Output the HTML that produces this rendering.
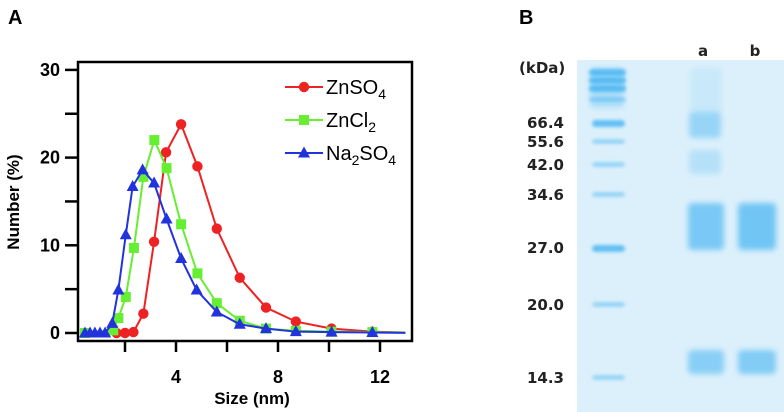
<!DOCTYPE html>
<html><head><meta charset="utf-8"><style>
body{margin:0;background:#fff;width:784px;height:412px;overflow:hidden}
svg{display:block;font-family:"Liberation Sans",Arial,sans-serif}
.gl{font-family:"DejaVu Sans",Verdana,sans-serif;font-weight:bold;font-size:15px;fill:#222}
</style></head><body>
<svg width="784" height="412">
<defs>
<filter id="blur" x="-30%" y="-50%" width="160%" height="200%"><feGaussianBlur stdDeviation="3"/></filter>
<filter id="blur2" x="-30%" y="-80%" width="160%" height="260%"><feGaussianBlur stdDeviation="1.5"/></filter>
</defs>
<text x="8" y="24" font-size="20" font-weight="bold">A</text>
<text x="519" y="24" font-size="20" font-weight="bold">B</text>
<g id="chart"></g>
<g id="gel">
<rect x="577" y="60" width="207" height="352" fill="#dcf0fb"/>
</g>
</svg>
<script>
const redX=[1.67,2.0,2.33,2.72,3.14,3.61,4.2,4.84,5.6,6.5,7.53,8.7,10.1,11.7,13.0];
const redY=[0,0,0.1,2.2,10.4,20.6,23.8,19.0,11.9,6.3,2.9,1.3,0.5,0.15,0.05];
const greenX=[0.43,1.54,1.74,2.03,2.35,2.72,3.15,3.63,4.2,4.84,5.6,6.5,7.53,8.7,10.1,11.7,13.0];
const greenY=[0,0.3,1.7,4.1,9.7,17.8,22.0,18.8,12.4,6.8,3.4,1.4,0.5,0.25,0.15,0.1,0.05];
const blueX=[0.43,0.63,0.82,1.02,1.22,1.5,1.74,2.03,2.3,2.69,3.14,3.63,4.2,4.81,5.6,6.5,7.53,8.7,10.1,11.7,13.0];
const blueY=[0,0,0,0,0,1.1,4.9,11.2,16.7,18.6,17.1,13.0,8.5,4.9,2.4,1.0,0.5,0.15,0.1,0.05,0.02];
const xTicks=[2,4,6,8,10,12];
const xTickLabels=["","4","","8","","12"];
const yTicks=[0,5,10,15,20,25,30];
const yTickLabels=["0","","10","","20","","30"];
const ladderY=[72,80,88,100,123,142,165,195,248,305,378];
const ladderLabels=["","","","","66.4","55.6","42.0","34.6","27.0","20.0","14.3"];

const NS="http://www.w3.org/2000/svg";
function mk(p,t,a){const e=document.createElementNS(NS,t);for(const k in a)e.setAttribute(k,a[k]);p.appendChild(e);return e;}
const xs=v=>176+(v-4)*25.5;
const ys=v=>333-v*8.77;
const g=document.getElementById('chart');
let fr=mk(g,'rect',{x:78,y:62,width:334,height:279,fill:'none',stroke:'#000','stroke-width':2.5});


xTicks.forEach((t,i)=>{
 let l=mk(g,'line',{x1:xs(t),x2:xs(t),y1:341,y2:352,stroke:'#000','stroke-width':2.5});
 
 
 if(xTickLabels[i]){let tx=mk(g,'text',{x:xs(t),y:383,'text-anchor':'middle','font-size':18,'font-weight':'bold'});tx.textContent=xTickLabels[i];
 
 }
});
yTicks.forEach((t,i)=>{
 let l=mk(g,'line',{x1:65,x2:78,y1:ys(t),y2:ys(t),stroke:'#000','stroke-width':2.5});
 
 
 if(yTickLabels[i]){let tx=mk(g,'text',{x:60,y:ys(t)+6,'text-anchor':'end','font-size':18,'font-weight':'bold'});tx.textContent=yTickLabels[i];
 
 }
});
let xt=mk(g,'text',{x:252,y:404,'text-anchor':'middle','font-size':17,'font-weight':'bold'});xt.textContent='Size (nm)';


let yt=mk(g,'text',{x:0,y:0,'text-anchor':'middle','font-size':17,'font-weight':'bold',transform:'translate(19,202) rotate(-90)'});yt.textContent='Number (%)';



function marker(p,type,x,y,c){
 let e;
 if(type==='c')e=mk(p,'circle',{cx:x,cy:y,r:5.2,fill:c});
 else if(type==='s')e=mk(p,'rect',{x:x-5,y:y-5,width:10,height:10,fill:c});
 else e=mk(p,'polygon',{points:`${x},${y-6.5} ${x-6},${y+4.5} ${x+6},${y+4.5}`,fill:c});
 return e;
}
function series(X,Y,c,type,name){
 const sg=mk(g,'g',{});
 
 
 const pl=mk(sg,'polyline',{points:X.map((x,i)=>xs(x)+','+ys(Y[i])).join(' '),fill:'none',stroke:c,'stroke-width':2});
 
 
 X.forEach((x,i)=>{if(i===X.length-1)return;const m=marker(sg,type,xs(x),ys(Y[i]),c);
  
  });
}
series(redX,redY,'#ee2222','c','znso4');
series(greenX,greenY,'#66ee33','s','zncl2');
series(blueX,blueY,'#2233dd','t','na2so4');
const leg=[['#ee2222','c','ZnSO','4','',93],['#66ee33','s','ZnCl','2','',126],['#2233dd','t','Na','2','SO4',159]];
leg.forEach(L=>{
 const lg=mk(g,'g',{});
 
 
 const y=L[5];
 mk(lg,'line',{x1:285,x2:323,y1:y-6,y2:y-6,stroke:L[0],'stroke-width':2});
 marker(lg,L[1],304,y-6,L[0]);
 const t=mk(lg,'text',{x:326,y:y+1,'font-size':20});
 if(L[4]){t.innerHTML=`Na<tspan font-size="14" dy="5">2</tspan><tspan dy="-5">SO</tspan><tspan font-size="14" dy="5">4</tspan>`;}
 else t.innerHTML=`${L[2]}<tspan font-size="14" dy="5">${L[3]}</tspan>`;
});

// gel
const gel=document.getElementById('gel');
function band(x,y,w,h,op,f,name){const b=mk(gel,'rect',{x:x,y:y,width:w,height:h,rx:4,fill:'#45b4f2',opacity:op,filter:f});
 
 }
ladderY.forEach((y,i)=>{
 const strong=(i===4||i===8||i<3);
 band(i<4?589:592,y-3,i<4?37:33,strong?7:5,strong?0.8:0.45,'url(#blur2)','ladder-band');
 if(ladderLabels[i]){const t=mk(gel,'text',{x:564,y:y+5,'text-anchor':'end',class:'gl'});t.textContent=ladderLabels[i];
  
  }
});
band(590,68,34,40,0.3,'url(#blur)','ladder-smear');
band(690,68,32,45,0.12,'url(#blur)','lane-a-smear');
band(689,112,32,26,0.45,'url(#blur)','lane-a-band-66');
band(689,150,32,24,0.25,'url(#blur)','lane-a-band-42');
band(688,203,36,47,0.65,'url(#blur)','lane-a-band-30');
band(688,350,36,24,0.55,'url(#blur)','lane-a-band-15');
band(738,203,38,47,0.7,'url(#blur)','lane-b-band-30');
band(738,350,38,24,0.6,'url(#blur)','lane-b-band-15');
[['(kDa)',519,73,'start','kda-label'],['a',703,56,'middle','lane-a-label'],['b',755,56,'middle','lane-b-label']].forEach(a=>{
 const t=mk(gel,'text',{x:a[1],y:a[2],'text-anchor':a[3],class:'gl'});t.textContent=a[0];
 
 
});
</script>
</body></html>
